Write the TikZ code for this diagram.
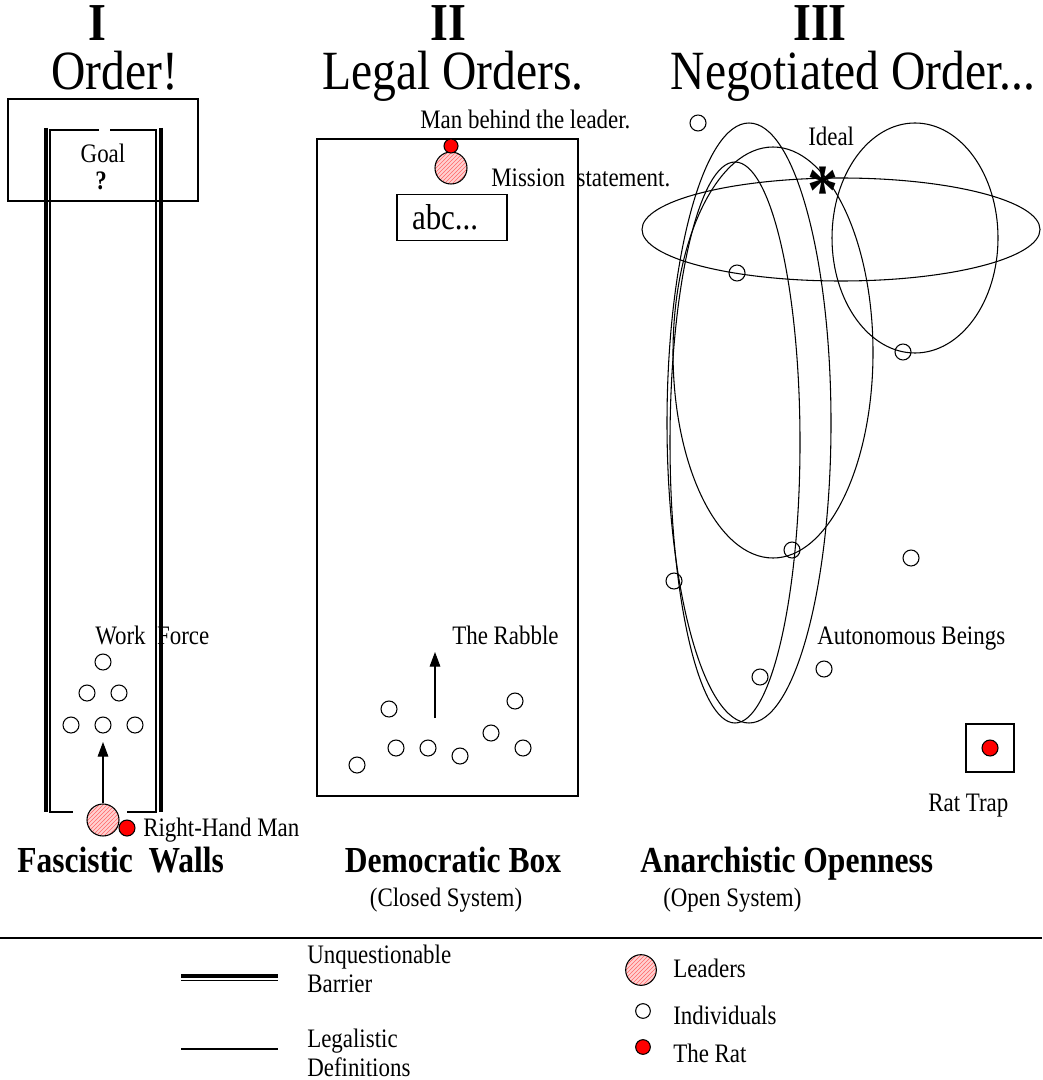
\documentclass[tikz,border=0pt]{standalone}
\usepackage{fontspec}
\setmainfont{Liberation Serif}[FakeStretch=0.86]
\usetikzlibrary{arrows.meta,patterns}

\tikzset{
  man/.style={circle,draw,line width=0.8pt,inner sep=0pt,minimum size=12pt},
  boss/.style={circle,draw,line width=0.8pt,inner sep=0pt,minimum size=24pt,
    preaction={fill=red!18},pattern=north east lines,pattern color=red!60},
  rat/.style={circle,draw,line width=0.8pt,fill=red,inner sep=0pt,minimum size=12pt},
  txt/.style={inner sep=0pt,font=\fontsize{20}{22}\selectfont},
  headline/.style={inner sep=0pt,text height=29pt,font=\fontsize{41.5}{44}\selectfont},
  numeral/.style={inner sep=0pt,font=\fontsize{40}{42}\selectfont\bfseries},
  tag/.style={inner sep=0pt,font=\fontsize{27.5}{30}\selectfont\bfseries},
  push/.style={line width=0.8pt,-{Triangle[length=11pt,width=8pt]}},
  wall/.style={line width=3pt},
  law/.style={line width=0.8pt},
}

\begin{document}
\begin{tikzpicture}[x=0.75pt,y=-0.75pt]
    \useasboundingbox (0,0) rectangle (1042,1080);
    % headings
    \node[numeral,anchor=base] (numI) at (97,41) {I};
    \node[numeral,anchor=base] (numII) at (448,41) {II};
    \node[numeral,anchor=base] (numIII) at (820,41) {III};
    \node[headline,anchor=base] (headI) at (115,90) {Order!};
    \node[headline,anchor=base] (headII) at (453,90) {Legal Orders.};
    \node[headline,anchor=base] (headIII) at (853,90) {Negotiated Order...};

    % I
    \draw[law] (8,99) rectangle (198,201);
    \draw[wall] (45.5,128) -- (45.5,812);
    \draw[wall] (160.5,128) -- (160.5,812);
    \draw[law] (99,130) -| (50,812) -- (73,812);
    \draw[law] (110,130) -| (156,812) -- (127,812);
    \node[txt,anchor=base] (goal) at (103,163) {Goal};
    \node[txt,font=\fontsize{20}{22}\selectfont\bfseries,anchor=base] (what) at (101,190) {?};
    \foreach \i/\x/\y in {1/103/662, 2/87/693, 3/119/693, 4/71/725, 5/103/725, 6/135/725}{
        \node[man] (wf\i) at (\x,\y) {};
    }
    \node[txt,anchor=base west] (wfLabel) at (95,644) {Work~~Force};
    \node[boss] (bossI) at (103,820) {};
    \node[rat] (ratI) at (127,828) {};
    \node[txt,anchor=base west] (ratIlabel) at (143,836) {Right-Hand Man};
    \coordinate (wfTip) at (103,742);
    \draw[push] (bossI) -- (wfTip);
    \node[tag,anchor=base west] (fasc) at (17,872) {Fascistic~~Walls};

    % II
    \draw[law] (317,139) rectangle (578,796);
    \node[boss] (bossII) at (451,168) {};
    \node[rat,minimum size=10.5pt] (ratII) at (451,146) {};
    \node[txt,anchor=base west] (behind) at (420,129) {Man behind the leader.};
    \node[txt,anchor=base west] (mission) at (491,187) {Mission~~statement.};
    \node[draw,law,minimum height=35pt,text width=60pt,inner xsep=11.25pt,inner ysep=0pt,align=left,
        font=\fontsize{27}{30}\selectfont] (abc) at (452,217.5) {abc...};
    \foreach \i/\x/\y in {1/389/709, 2/357/765, 3/396/748, 4/428/748, 5/460/756, 6/491/733, 7/515/701, 8/523/748}{
        \node[man] (rb\i) at (\x,\y) {};
    }
    \coordinate (rbFoot) at (435,718);
    \coordinate (rbTip) at (435,652);
    \draw[push] (rbFoot) -- (rbTip);
    \node[txt,anchor=base west] (rbLabel) at (452,644) {The Rabble};
    \node[tag,anchor=base] (demo) at (453,872) {Democratic Box};
    \node[txt,anchor=base] (closed) at (446,906) {(Closed System)};

    % III
    \draw[law] (841,229.5) ellipse [x radius=199, y radius=51.5];
    \draw[law] (915,238) ellipse [x radius=83, y radius=115];
    \draw[law] (773,352.5) ellipse [x radius=100, y radius=205.5];
    \draw[law] (749,423) ellipse [x radius=82, y radius=300];
    \draw[law] (735,442.5) ellipse [x radius=65, y radius=280.5];
    \foreach \i/\x/\y in {1/698/123, 2/737/273, 3/903/352, 4/792/550, 5/674/581, 6/911/558, 7/760/677, 8/824/669}{
        \node[man] (ab\i) at (\x,\y) {};
    }
    \node[txt,anchor=base west] (ideal) at (808,146) {Ideal};
    \node[inner sep=0pt,font=\fontsize{54}{54}\selectfont\bfseries,anchor=base] (star) at (823,215) {*};
    \node[txt,anchor=base west] (auto) at (817,644) {Autonomous Beings};
    \node[draw,law,minimum size=36pt,inner sep=0pt] (trap) at (990,748) {};
    \node[rat] (ratIII) at (990,748) {};
    \node[txt,anchor=base west] (trapLabel) at (928,811) {Rat Trap};
    \node[tag,anchor=base west] (anarch) at (640,872) {Anarchistic Openness};
    \node[txt,anchor=base west] (open) at (663,906) {(Open System)};

    % key
    \draw[line width=1.1pt] (0,938) -- (1042,938);
    \draw[wall] (181,976) -- (278,976);
    \draw[law] (181,980.5) -- (278,980.5);
    \draw[law] (181,1049) -- (278,1049);
    \node[txt,anchor=base west] (unq) at (307,963) {Unquestionable};
    \node[txt,anchor=base west] (barrier) at (307,992) {Barrier};
    \node[txt,anchor=base west] (legal) at (307,1047) {Legalistic};
    \node[txt,anchor=base west] (defs) at (307,1076) {Definitions};
    \node[boss,minimum size=23pt] (keyBoss) at (641,970) {};
    \node[txt,anchor=base west] (keyBossLabel) at (673,977) {Leaders};
    \node[man,minimum size=11pt] (keyMan) at (643,1011) {};
    \node[txt,anchor=base west] (keyManLabel) at (673,1024) {Individuals};
    \node[rat,minimum size=11pt] (keyRat) at (643,1047) {};
    \node[txt,anchor=base west] (keyRatLabel) at (673,1062) {The Rat};
\end{tikzpicture}
\end{document}
